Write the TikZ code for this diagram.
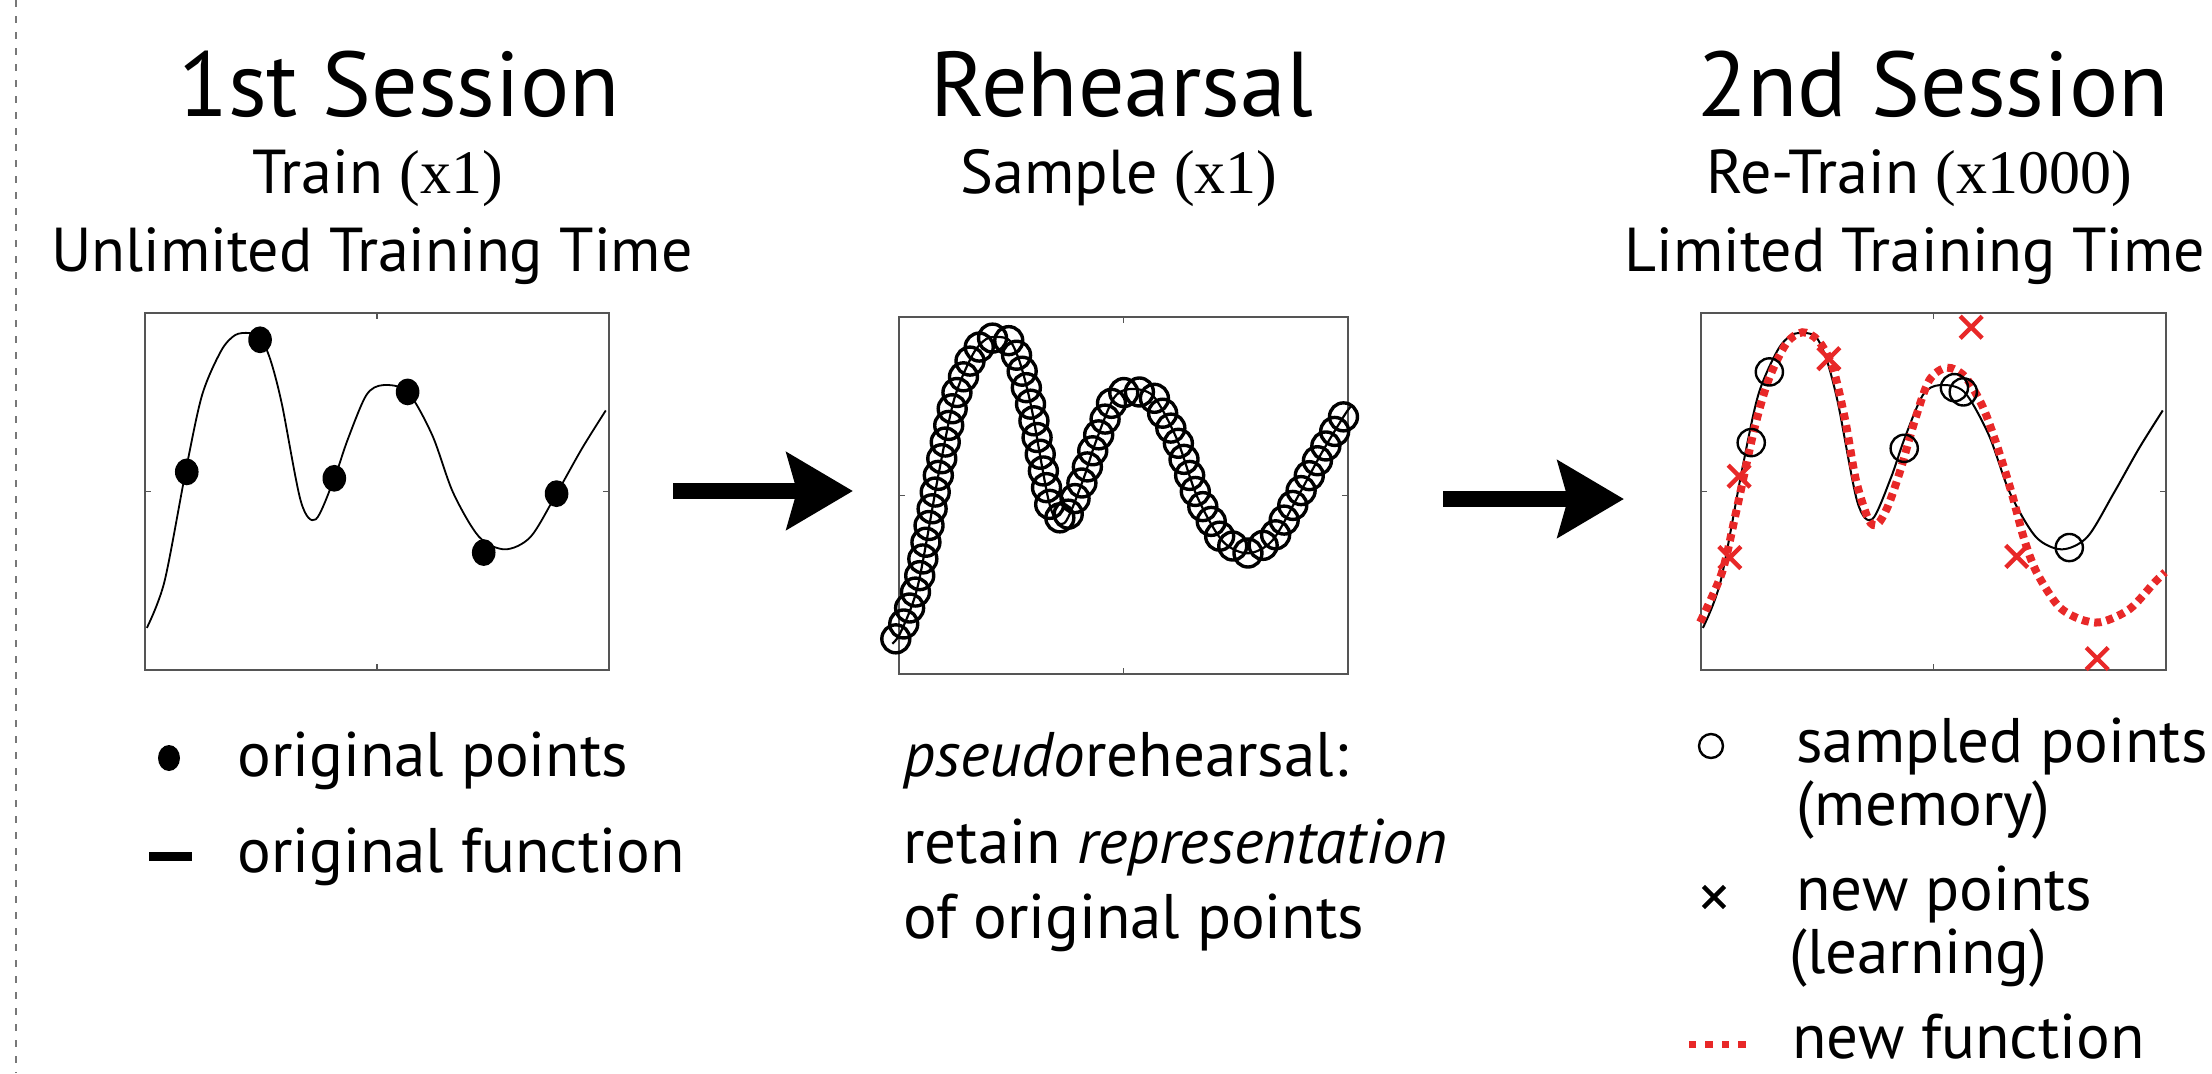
\documentclass[tikz,border=0pt]{standalone}
\usepackage{fontspec}
\setmainfont{PT Sans}
\newfontfamily\numfont{Liberation Serif}
\usetikzlibrary{arrows.meta}
\definecolor{newred}{RGB}{232,40,40}
\definecolor{framegray}{RGB}{85,85,85}
\definecolor{sepgray}{RGB}{120,120,120}

% normalised shape of the learned function (u and v both in [0,1])
\def\basecurve{plot[smooth] coordinates {(0.004,0.118) (0.042,0.248) (0.088,0.559) (0.123,0.770) (0.164,0.894) (0.194,0.938) (0.224,0.944) (0.248,0.932) (0.270,0.870) (0.295,0.745) (0.336,0.472) (0.368,0.422) (0.408,0.537) (0.437,0.646) (0.477,0.770) (0.513,0.798) (0.566,0.779) (0.619,0.658) (0.664,0.497) (0.720,0.373) (0.776,0.338) (0.831,0.373) (0.887,0.494) (0.942,0.621) (0.993,0.727)}}
% the re-trained function
\def\newcurve{plot[smooth] coordinates {(-0.002,0.134) (0.045,0.273) (0.075,0.440) (0.114,0.672) (0.145,0.812) (0.183,0.914) (0.218,0.946) (0.252,0.923) (0.283,0.849) (0.310,0.700) (0.333,0.533) (0.360,0.422) (0.379,0.408) (0.402,0.459) (0.429,0.561) (0.460,0.700) (0.491,0.812) (0.529,0.847) (0.568,0.821) (0.606,0.737) (0.637,0.626) (0.668,0.496) (0.695,0.366) (0.722,0.273) (0.768,0.180) (0.814,0.143) (0.860,0.134) (0.922,0.171) (0.975,0.245) (0.998,0.274)}}
% the same function in page units for the sampled panel
\def\samplecurve{plot[smooth] coordinates {(892.3,643.7) (900.8,631.9) (917.9,585.5) (938.5,474.4) (954.2,399.1) (972.6,354.8) (986.1,339.1) (999.6,337.0) (1010.4,341.3) (1020.2,363.4) (1031.5,408.0) (1049.9,505.5) (1064.2,523.3) (1082.2,482.3) (1095.2,443.4) (1113.2,399.1) (1129.3,389.1) (1153.1,395.9) (1176.9,439.1) (1197.1,496.6) (1222.3,540.8) (1247.4,553.3) (1272.1,540.8) (1297.3,497.6) (1322.0,452.3) (1344.9,414.5) (1352.5,404.5)}}

\begin{document}
\begin{tikzpicture}[x=0.5pt,y=-0.5pt,
  head/.style={font=\fontsize{46}{52}\selectfont, anchor=base, inner sep=0pt},
  subhead/.style={font=\fontsize{31}{36}\selectfont, anchor=base, inner sep=0pt},
  legtext/.style={font=\fontsize{31.5}{36}\selectfont, anchor=base west, inner sep=0pt},
  frame/.style={draw=framegray, line width=0.7pt},
  fcurve/.style={line width=0.9pt, line join=round},
  newfn/.style={draw=newred, line width=4pt, dash pattern=on 3.6pt off 2.6pt},
  ring/.style={line width=1.2pt},
  samplering/.style={line width=1.7pt},
  bigarrow/.style={line width=8pt, -{Stealth[length=33pt,width=38pt,inset=5pt]}},
  sepline/.style={draw=sepgray, line width=0.9pt, dash pattern=on 3.5pt off 4.5pt},
  xmk/.pic={\draw[line width=2.2pt] (-5.5pt,-5.5pt) -- (5.5pt,5.5pt) (-5.5pt,5.5pt) -- (5.5pt,-5.5pt);},
  xmklegend/.pic={\draw[line width=2.2pt] (-5.3pt,-5.3pt) -- (5.3pt,5.3pt) (-5.3pt,5.3pt) -- (5.3pt,-5.3pt);}]

\useasboundingbox (0,0) rectangle (2212,1073);

% separator on the left
\coordinate (septop) at (16,0);
\coordinate (sepbot) at (16,1073);
\draw[sepline] (septop) -- (sepbot);

% titles
\node[head] (h1) at (399,116) {1st Session};
\node[head] (h2) at (1122,116) {Rehearsal};
\node[head] (h3) at (1933,116) {2nd Session};
\node[subhead] (s1) at (378,193) {Train {\numfont(x1)}};
\node[subhead] (s2) at (1119,193) {Sample {\numfont(x1)}};
\node[subhead] (s3) at (1919,193) {Re-Train {\numfont(x1000)}};
\node[subhead] (t1) at (372,271) {Unlimited Training Time};
\node[subhead] (t3) at (1915,271) {Limited Training Time};

% panel 1: original function and points
\begin{scope}[shift={(145,670)}, x=232pt, y=178.5pt]
  \draw[frame] (0,0) rectangle (1,1);
  \draw[frame] (0.5,0) -- ++(0pt,3pt) (0.5,1) -- ++(0pt,-3pt)
               (0,0.5) -- ++(3pt,0pt) (1,0.5) -- ++(-3pt,0pt);
  \draw[fcurve] \basecurve;
  \foreach \u/\v in {0.090/0.555, 0.248/0.925, 0.408/0.537, 0.566/0.779, 0.730/0.329, 0.887/0.494}
    \fill (\u,\v) ellipse [x radius=5.9pt, y radius=6.7pt];
\end{scope}

% panel 2: densely sampled representation
\begin{scope}[shift={(899,674)}, x=224.5pt, y=178.5pt]
  \draw[frame] (0,0) rectangle (1,1);
  \draw[frame] (0.5,0) -- ++(0pt,3pt) (0.5,1) -- ++(0pt,-3pt)
               (0,0.5) -- ++(3pt,0pt) (1,0.5) -- ++(-3pt,0pt);
\end{scope}
\draw[fcurve, line width=1.1pt] \samplecurve;
% rings spaced evenly along the curve
\xdef\carry{6}
\foreach \xa/\ya/\xb/\yb in {892.3/643.7/900.8/631.9, 900.8/631.9/917.9/585.5, 917.9/585.5/938.5/474.4,
  938.5/474.4/954.2/399.1, 954.2/399.1/972.6/354.8, 972.6/354.8/986.1/339.1, 986.1/339.1/999.6/337.0,
  999.6/337.0/1010.4/341.3, 1010.4/341.3/1020.2/363.4, 1020.2/363.4/1031.5/408.0, 1031.5/408.0/1049.9/505.5,
  1049.9/505.5/1064.2/523.3, 1064.2/523.3/1082.2/482.3, 1082.2/482.3/1095.2/443.4, 1095.2/443.4/1113.2/399.1,
  1113.2/399.1/1129.3/389.1, 1129.3/389.1/1153.1/395.9, 1153.1/395.9/1176.9/439.1, 1176.9/439.1/1197.1/496.6,
  1197.1/496.6/1222.3/540.8, 1222.3/540.8/1247.4/553.3, 1247.4/553.3/1272.1/540.8, 1272.1/540.8/1297.3/497.6,
  1297.3/497.6/1322.0/452.3, 1322.0/452.3/1344.9/414.5} {
  \pgfmathsetmacro\seglen{veclen(\xb-\xa,\yb-\ya)}
  \pgfmathtruncatemacro\m{(\seglen>=\carry) ? floor((\seglen-\carry)/17)+1 : 0}
  \ifnum\m>0
    \foreach \k in {1,...,\m} {
      \pgfmathsetmacro\t{(\carry+(\k-1)*17)/\seglen}
      \pgfmathsetmacro\px{\xa+\t*(\xb-\xa)}
      \pgfmathsetmacro\py{\ya+\t*(\yb-\ya)}
      \draw[samplering] (\px,\py) circle (7pt);
    }
  \fi
  \pgfmathsetmacro\nc{\carry+\m*17-\seglen}
  \global\let\carry\nc
}

% panel 3: retraining with new points
\begin{scope}[shift={(1701,670)}, x=232.5pt, y=178.5pt]
  \draw[frame] (0,0) rectangle (1,1);
  \draw[frame] (0.5,0) -- ++(0pt,3pt) (0.5,1) -- ++(0pt,-3pt)
               (0,0.5) -- ++(3pt,0pt) (1,0.5) -- ++(-3pt,0pt);
  \draw[fcurve, line width=1pt] \basecurve;
  \draw[newfn] \newcurve;
  \foreach \u/\v in {0.147/0.835, 0.108/0.637, 0.437/0.621, 0.545/0.791, 0.564/0.779, 0.792/0.343}
    \draw[ring] (\u,\v) circle (6.8pt);
  \foreach \u/\v in {0.581/0.960, 0.275/0.872, 0.082/0.543, 0.062/0.315, 0.679/0.318, 0.852/0.032}
    \pic[newred] at (\u,\v) {xmk};
\end{scope}

% arrows between panels
\coordinate (a1s) at (673,491);
\coordinate (a1e) at (853,491);
\coordinate (a2s) at (1443,499);
\coordinate (a2e) at (1624,499);
\draw[bigarrow] (a1s) -- (a1e);
\draw[bigarrow] (a2s) -- (a2e);

% legend, panel 1
\fill (169,758) ellipse [x radius=5.5pt, y radius=6.5pt];
\draw[line width=4.5pt] (149,856) -- (192,856);
\node[legtext] (l1) at (237,776) {original points};
\node[legtext] (l2) at (237,872) {original function};

% caption, panel 2
\node[legtext] (m1) at (903,776) {\textit{pseudo}rehearsal:};
\node[legtext] (m2) at (903,863) {retain \textit{representation}};
\node[legtext] (m3) at (903,938) {of original points};

% legend, panel 3
\draw[ring] (1711,746) circle (6pt);
\pic at (1714,897) {xmklegend};
\draw[newfn, line width=3.5pt, dash pattern=on 3.7pt off 4.5pt] (1689,1044) -- (1747,1044);
\node[legtext] (r1) at (1796,762) {sampled points};
\node[legtext] (r2) at (1796,825) {(memory)};
\node[legtext] (r3) at (1796,910) {new points};
\node[legtext] (r4) at (1789,973) {(learning)};
\node[legtext] (r5) at (1792,1058) {new function};
\end{tikzpicture}
\end{document}
